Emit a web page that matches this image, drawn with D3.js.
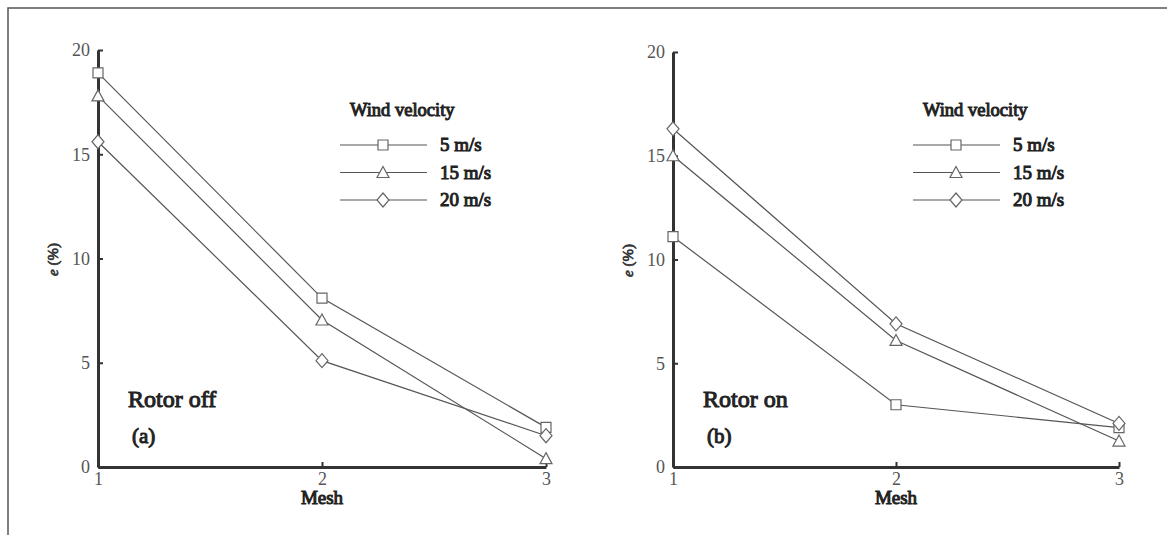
<!DOCTYPE html>
<html>
<head>
  <meta charset="utf-8">
  <title>Mesh vs e (%)</title>
  <script src="https://cdn.jsdelivr.net/npm/d3@7"></script>
  <style>
    body { margin: 0; background: #fff; }
    svg { display: block; }
  </style>
</head>
<body>
  <div id="chart"></div>
  <script>
    // Data
    const meshes = [1, 2, 3];
    const speeds = ["5 m/s", "15 m/s", "20 m/s"];
    const symbols = ["square", "triangle", "diamond"];
    const yTicks = [0, 5, 10, 15, 20];
    const xTicks = [1, 2, 3];

    // panel (a) rotor off
    const rotorOff5 = [18.9, 8.1, 1.9];
    const rotorOff15 = [17.8, 7.05, 0.4];
    const rotorOff20 = [15.6, 5.1, 1.5];
    // panel (b) rotor on
    const rotorOn5 = [11.1, 3.0, 1.9];
    const rotorOn15 = [15.0, 6.1, 1.25];
    const rotorOn20 = [16.3, 6.9, 2.1];

    const serif = "Liberation Serif";
    const width = 1167, height = 535;
    const svg = d3.select("#chart").append("svg")
        .attr("width", width)
        .attr("height", height);

    // outer frame (top + left)
    svg.append("path")
        .attr("d", `M8,${height} L8,8 L${width},8`)
        .attr("fill", "none")
        .attr("stroke", "#555")
        .attr("stroke-width", 1.5);

    const panels = [
      { left: 98, right: 546, top: 50, bottom: 467, series: [rotorOff5, rotorOff15, rotorOff20],
        title: "Rotor off", tag: "(a)", legendX: 340 },
      { left: 673, right: 1119, top: 52, bottom: 467, series: [rotorOn5, rotorOn15, rotorOn20],
        title: "Rotor on", tag: "(b)", legendX: 913 }
    ];

    function marker(g, type, cx, cy) {
      let d;
      if (type === "square") d = `M${cx-5},${cy-5}h10v10h-10z`;
      else if (type === "triangle") d = `M${cx},${cy-6}L${cx+6},${cy+5}L${cx-6},${cy+5}z`;
      else d = `M${cx},${cy-7}L${cx+6},${cy}L${cx},${cy+7}L${cx-6},${cy}z`;
      g.append("path")
          .attr("d", d)
          .attr("fill", "#fff")
          .attr("stroke", "#666")
          .attr("stroke-width", 1.2);
    }

    // bold look drawn with a thin stroke over the regular serif face
    function label(g, x, y, size, txt) {
      return g.append("text")
          .attr("x", x).attr("y", y)
          .attr("font-family", serif)
          .attr("font-size", size)
          .attr("fill", "#222")
          .attr("stroke", "#222")
          .attr("stroke-width", 1)
          .text(txt);
    }

    panels.forEach(p => {
      const x = d3.scaleLinear().domain([1, 3]).range([p.left, p.right]);
      const y = d3.scaleLinear().domain([0, 20]).range([p.bottom, p.top]);
      const g = svg.append("g");

      // y axis
      const ya = g.append("g")
          .attr("transform", `translate(${p.left},0)`)
          .call(d3.axisLeft(y).tickValues(yTicks).tickSizeInner(-5).tickSizeOuter(0).tickPadding(8));
      ya.select(".domain").attr("stroke", "#333").attr("stroke-width", 3);
      ya.selectAll(".tick line").attr("stroke", "#333").attr("stroke-width", 2);
      ya.selectAll(".tick text").attr("font-size", 18).attr("fill", "#555")
          .attr("font-family", serif);

      // x axis
      const xa = g.append("g")
          .attr("transform", `translate(0,${p.bottom})`)
          .call(d3.axisBottom(x).tickValues(xTicks).tickFormat(d3.format("d"))
            .tickSizeInner(-5).tickSizeOuter(0).tickPadding(5));
      xa.select(".domain").attr("stroke", "#333").attr("stroke-width", 3);
      xa.selectAll(".tick line").attr("stroke", "#333").attr("stroke-width", 2);
      xa.selectAll(".tick text").attr("font-size", 18).attr("fill", "#555")
          .attr("font-family", serif);

      // axis titles
      label(g, x(2), p.bottom + 37, 19, "Mesh").attr("text-anchor", "middle");
      const yl = g.append("text")
          .attr("transform", `translate(${p.left - 40},${(p.top + p.bottom) / 2 + 1}) rotate(-90)`)
          .attr("text-anchor", "middle")
          .attr("font-family", serif)
          .attr("font-size", 15)
          .attr("fill", "#333").attr("stroke", "#333").attr("stroke-width", 0.7);
      yl.append("tspan").attr("font-style", "italic").text("e");
      yl.append("tspan").text(" (%)");

      // lines
      const line = d3.line().x((d, i) => x(meshes[i])).y(d => y(d));
      p.series.forEach(s => {
        g.append("path")
            .datum(s)
            .attr("d", line)
            .attr("fill", "none")
            .attr("stroke", "#555")
            .attr("stroke-width", 1.2);
      });
      p.series.forEach((s, k) => {
        s.forEach((v, i) => marker(g, symbols[k], x(meshes[i]), y(v)));
      });

      // panel labels
      label(g, p.left + 30, 407, 24, p.title);
      label(g, p.left + 34, 443, 21, p.tag);

      // legend
      const lg = g.append("g");
      label(lg, p.legendX + 10, 116, 18.5, "Wind velocity");
      speeds.forEach((lab, k) => {
        const ly = 145 + k * 27.5;
        lg.append("line")
            .attr("x1", p.legendX).attr("x2", p.legendX + 87)
            .attr("y1", ly).attr("y2", ly)
            .attr("stroke", "#555").attr("stroke-width", 1.2);
        marker(lg, symbols[k], p.legendX + 43, ly);
        label(lg, p.legendX + 100, ly + 6, 19, lab);
      });
    });
  </script>
</body>
</html>
